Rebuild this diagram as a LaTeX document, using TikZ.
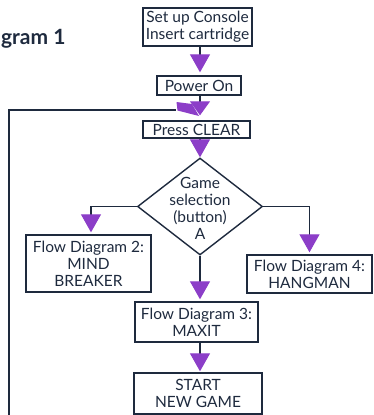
\documentclass[tikz,border=0pt]{standalone}
\usepackage{fontspec}
\setmainfont{Lato}
\usetikzlibrary{arrows.meta,shapes.geometric}
\definecolor{vp}{RGB}{140,62,200}
\definecolor{ink}{RGB}{30,42,62}
\begin{document}
\begin{tikzpicture}[x=1pt,y=-1pt,
  box/.style={draw=ink, line width=1.4pt, text=ink, inner sep=0pt, align=center,
    font=\fontsize{15.5}{17}\selectfont},
  conn/.style={draw=ink, line width=1.2pt, -{Triangle[width=20pt,length=18pt,color=vp]}, shorten >=3pt},
  plain/.style={draw=ink, line width=1.2pt},
]
\useasboundingbox (0,0) rectangle (373,415);
\node[anchor=base east, text=ink, font=\fontsize{21}{24}\bfseries\selectfont] (title) at (69,44) {gram 1};

\node[box, minimum width=109pt, minimum height=38pt] (setup) at (197.5,27) {Set up Console\\Insert cartridge};
\node[box, minimum width=84pt, minimum height=19pt] (power) at (199,85.5) {Power On};
\node[box, minimum width=107pt, minimum height=17pt] (clear) at (196.5,129.5) {Press CLEAR};
\node[draw=ink, line width=1.4pt, diamond, minimum width=125pt, minimum height=97pt, inner sep=0pt] (dia) at (200,206.5) {};
\node[text=ink, align=center, font=\fontsize{15.5}{17}\selectfont] (diatext) at (200,208) {Game\\selection\\(button)\\A};
\node[box, minimum width=125pt, minimum height=57pt] (fd2) at (88.5,263.5) {Flow Diagram 2:\\MIND\\BREAKER};
\node[box, minimum width=125pt, minimum height=38pt] (fd4) at (309.5,274) {Flow Diagram 4:\\HANGMAN};
\node[box, minimum width=123pt, minimum height=40pt] (fd3) at (196.5,322) {Flow Diagram 3:\\MAXIT};
\node[box, minimum width=128pt, minimum height=41pt] (start) at (198,393.5) {START\\NEW GAME};

\coordinate (loopend) at (176,110);

\draw[conn] (setup.south -| 200,0) -- (power.north -| 200,0);
\draw[conn, -{Triangle[width=20pt,length=14pt,color=vp]}, shorten >=5pt] (power.south -| 200,0) -- (clear.north -| 200,0);
\draw[conn, shorten >=0pt] (clear.south -| 200,0) -- (dia.north);
\draw[conn, shorten >=2pt] (dia.west) -| ([xshift=2.5pt]fd2.north);
\draw[conn, shorten >=2pt] (dia.east) -| (fd4.north);
\draw[conn, shorten >=2pt] (dia.south) -- (fd3.north -| 200,0);
\draw[conn, shorten >=1pt] (fd3.south -| 200,0) -- (start.north -| 200,0);
\draw[plain] (start.south -| 200,0) -- (200,440) -- (9,440) -- (9,110) -- (loopend);
\fill[vp] (176.5,102) -- (192,104) -- (199,116) -- (177.5,110.5) -- cycle;
\end{tikzpicture}
\end{document}
